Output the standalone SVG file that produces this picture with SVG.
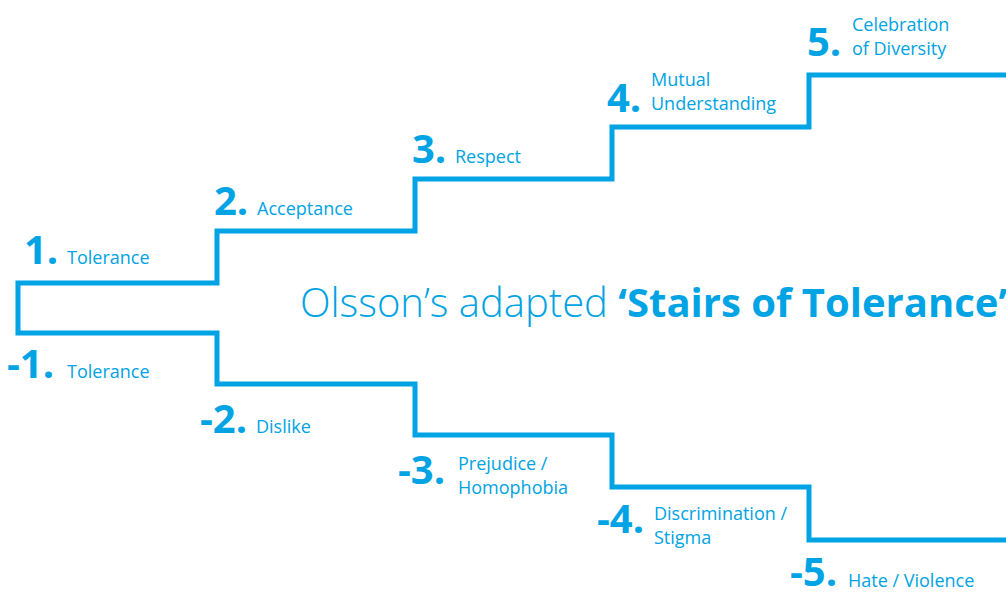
<svg xmlns="http://www.w3.org/2000/svg" width="1006" height="592" viewBox="0 0 1006 592">
<style>
.n{font-family:"Open Sans","Noto Sans","Liberation Sans",sans-serif;font-weight:700;font-size:40px;fill:#00a3e3}
.l{font-family:"Open Sans","Noto Sans","Liberation Sans",sans-serif;font-weight:400;font-size:18px;fill:#00a3e3}
.t{font-family:"Open Sans","Noto Sans","Liberation Sans",sans-serif;font-size:40px;fill:#00a3e3}
.s{fill:none;stroke:#00a3e3;stroke-width:5;stroke-linejoin:miter}
</style>
<rect width="1006" height="592" fill="#ffffff"/>
<g id="connectors">
<path class="s" d="M1006,75 H809 V127 H612 V179 H415 V231 H217 V283 H18 V333 H217 V384 H415 V435 H612 V487 H809 V540 H1006"/>
</g>
<g id="step1"><text class="n" x="24" y="264">1.</text><text class="l" x="67" y="264">Tolerance</text></g>
<g id="step2"><text class="n" x="214" y="215">2.</text><text class="l" x="257" y="215">Acceptance</text></g>
<g id="step3"><text class="n" x="412" y="163">3.</text><text class="l" x="455" y="163">Respect</text></g>
<g id="step4"><text class="n" x="607" y="112">4.</text><text class="l" x="651" y="86">Mutual</text><text class="l" x="651" y="110">Understanding</text></g>
<g id="step5"><text class="n" x="807" y="56">5.</text><text class="l" x="852" y="31">Celebration</text><text class="l" x="852" y="55">of Diversity</text></g>
<g id="stepm1"><text class="n" x="7" y="378">-1.</text><text class="l" x="67" y="378">Tolerance</text></g>
<g id="stepm2"><text class="n" x="200" y="433">-2.</text><text class="l" x="256" y="433">Dislike</text></g>
<g id="stepm3"><text class="n" x="398" y="484">-3.</text><text class="l" x="458" y="470">Prejudice /</text><text class="l" x="458" y="494">Homophobia</text></g>
<g id="stepm4"><text class="n" x="597" y="533">-4.</text><text class="l" x="654" y="520">Discrimination /</text><text class="l" x="654" y="544">Stigma</text></g>
<g id="stepm5"><text class="n" x="790" y="586">-5.</text><text class="l" x="848" y="587">Hate / Violence</text></g>
<g id="title"><text class="t" x="300" y="317"><tspan font-weight="300">Olsson’s adapted </tspan><tspan font-weight="700">‘Stairs of Tolerance’</tspan></text></g>
</svg>
